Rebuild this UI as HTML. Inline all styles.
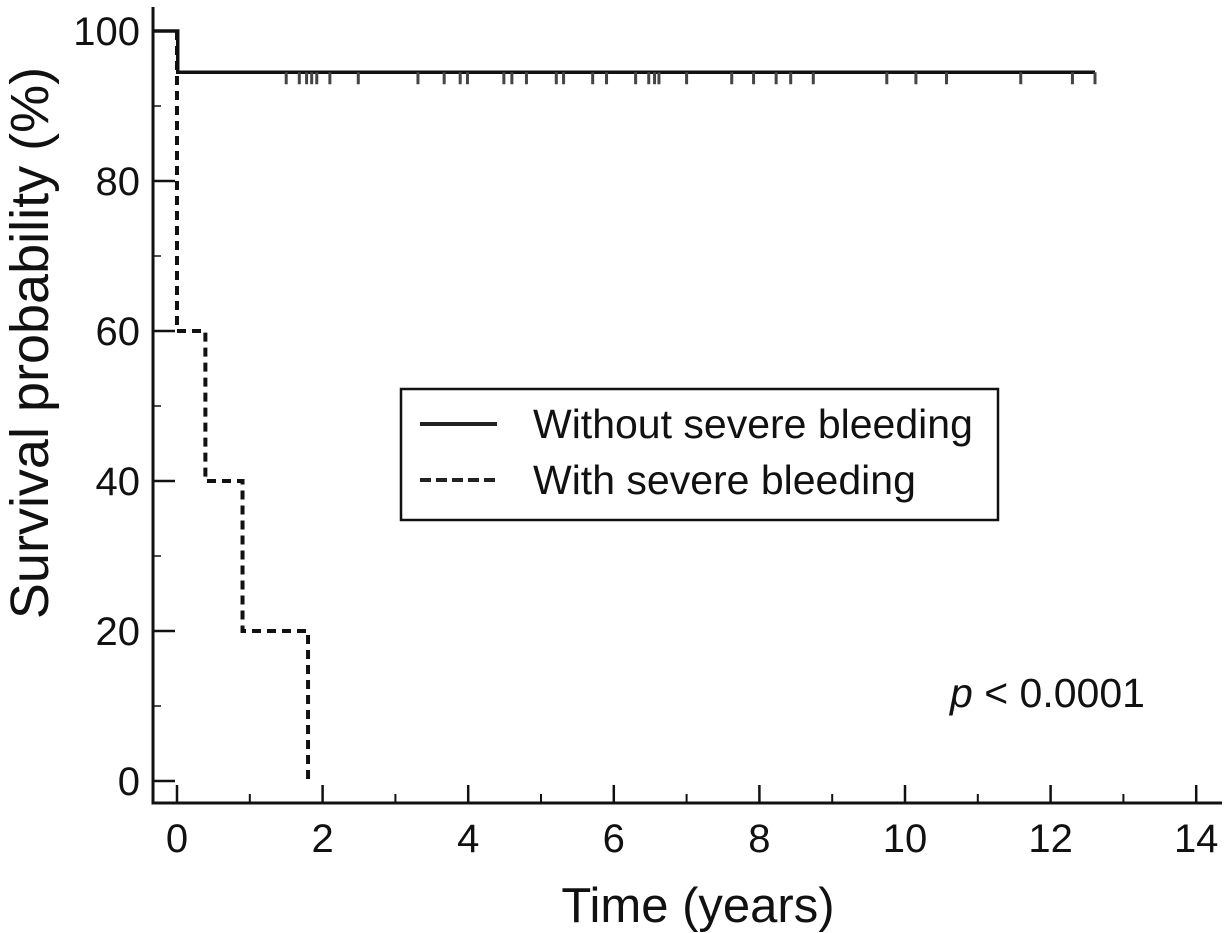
<!DOCTYPE html>
<html><head><meta charset="utf-8">
<style>
html,body{margin:0;padding:0;background:#fff;}
svg{display:block;font-family:"Liberation Sans",Arial,sans-serif;}
</style></head>
<body>
<svg id="chart" width="1231" height="933" viewBox="0 0 1231 933"></svg>
<script>
const xTicks=[0,2,4,6,8,10,12,14];
const yTicks=[0,20,40,60,80,100];
const withoutTimes=[0,0.01,12.61];
const withoutSurv=[100,94.5,94.5];
const withTimes=[0,0.39,0.90,1.80];
const withSurv=[60,40,20,0];
const censorTimes=[1.50,1.68,1.78,1.85,1.92,2.10,2.49,3.31,3.67,3.89,3.99,4.49,4.60,4.80,5.21,5.31,5.71,5.90,6.30,6.48,6.56,6.62,7.00,7.62,7.92,8.23,8.43,8.74,9.75,10.15,10.57,11.59,12.30,12.61];

const NS='http://www.w3.org/2000/svg';
const svg=document.getElementById('chart');
const X=t=>177+t*72.8;
const Y=v=>781-v*7.5;
const AX=153, AY=803;
function mk(tag,attrs,parent){const e=document.createElementNS(NS,tag);for(const k in attrs)e.setAttribute(k,attrs[k]);(parent||svg).appendChild(e);return e;}

let yAxis=mk('line',{x1:AX,y1:7,x2:AX,y2:AY+1.5,stroke:'#111','stroke-width':3});


let xAxis=mk('line',{x1:AX-1.5,y1:AY,x2:1222,y2:AY,stroke:'#111','stroke-width':3});



for(let t=0;t<=14;t++){
  const major=t%2===0;
  let tk=mk('line',{x1:X(t),y1:AY,x2:X(t),y2:AY-(major?18:9),stroke:'#111','stroke-width':major?2.5:2});
  
  
}
xTicks.forEach(t=>{
  let lb=mk('text',{x:X(t),y:852,'font-size':40,'text-anchor':'middle',fill:'#111'});
  lb.textContent=t;
  
  
});
for(let v=0;v<=100;v+=10){
  const major=v%20===0;
  let tk=mk('line',{x1:AX,y1:Y(v),x2:AX+(major?22:8),y2:Y(v),stroke:'#111','stroke-width':major?2.5:1.5});
  
  
}
yTicks.forEach(v=>{
  let lb=mk('text',{x:140,y:Y(v)+14,'font-size':40,'text-anchor':'end',fill:'#111'});
  lb.textContent=v;
  
  
});

let xt=mk('text',{x:698,y:922,'font-size':49,'text-anchor':'middle',fill:'#111'});
xt.textContent='Time (years)';


let yt=mk('text',{x:0,y:0,'font-size':54,'text-anchor':'middle',fill:'#111',transform:'translate(48,343) rotate(-90)'});
yt.textContent='Survival probability (%)';



let d='M'+AX+','+Y(withoutSurv[0]);
for(let i=0;i<withoutTimes.length;i++){
  d+=' L'+X(withoutTimes[i])+','+Y(i>0?withoutSurv[i-1]:withoutSurv[0])+' L'+X(withoutTimes[i])+','+Y(withoutSurv[i]);
}
let p1=mk('path',{d:d,fill:'none',stroke:'#111','stroke-width':3.5});


censorTimes.forEach(t=>{
  let c=mk('line',{x1:X(t),y1:Y(94.5),x2:X(t),y2:Y(94.5)+12,stroke:'#444','stroke-width':3});
  
  
});

let d2='M'+X(withTimes[0])+','+Y(100)+' L'+X(withTimes[0])+','+Y(withSurv[0]);
for(let i=1;i<withTimes.length;i++){
  d2+=' L'+X(withTimes[i])+','+Y(withSurv[i-1])+' L'+X(withTimes[i])+','+Y(withSurv[i]);
}
let p2=mk('path',{d:d2,fill:'none',stroke:'#111','stroke-width':4,'stroke-dasharray':'9,6'});



const lg=mk('g',{});


mk('rect',{x:401,y:389,width:597,height:131,fill:'#fff',stroke:'#111','stroke-width':2.5},lg);
mk('line',{x1:420,y1:424,x2:497,y2:424,stroke:'#222','stroke-width':4},lg);
mk('line',{x1:420,y1:480,x2:497,y2:480,stroke:'#222','stroke-width':4,'stroke-dasharray':'11,5'},lg);
let l1=mk('text',{x:533,y:438,'font-size':41,fill:'#111'},lg);
l1.textContent='Without severe bleeding';


let l2=mk('text',{x:533,y:494,'font-size':41,fill:'#111'},lg);
l2.textContent='With severe bleeding';



let pv=mk('text',{x:950,y:707,'font-size':41,fill:'#111'});
pv.innerHTML='<tspan font-style="italic">p</tspan> &lt; 0.0001';


</script>
</body></html>
